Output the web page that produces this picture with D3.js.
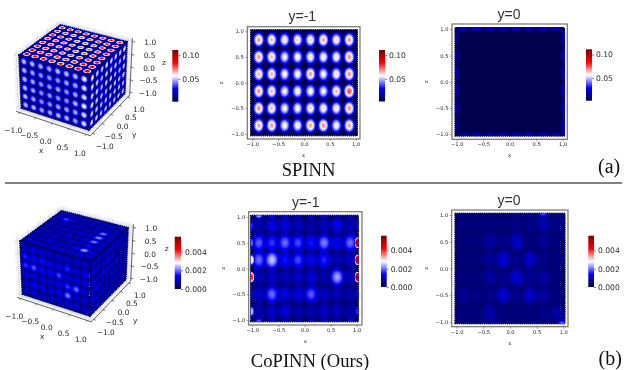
<!DOCTYPE html>
<html>
<head>
<meta charset="utf-8">
<script src="https://cdn.jsdelivr.net/npm/d3@7"></script>
<style>
  html, body { margin: 0; background: #fff; }
  svg { display: block; filter: blur(0.3px); }
  text { font-family: "DejaVu Sans", sans-serif; fill: #2a2a2a; }
  .title { font-family: "Liberation Sans", sans-serif; font-size: 14px; fill: #333; text-anchor: middle; }
  .caption { font-family: "Liberation Serif", serif; font-size: 18.6px; fill: #111; text-anchor: middle; }
  .tag { font-family: "Liberation Serif", serif; font-size: 20px; fill: #111; }
  .lumps { filter: blur(0.5px); }
</style>
</head>
<body>
<script>
// ---------------------------
// Data
// ---------------------------

const ticks = [-1, -0.5, 0, 0.5, 1];
const xCenters = [-0.875, -0.625, -0.375, -0.125, 0.125, 0.375, 0.625, 0.875];
const zCenters = [0.833, 0.5, 0.167, -0.167, -0.5, -0.833];
const yCenters = [0.875, 0.625, 0.375, 0.125, -0.125, -0.375, -0.625, -0.875];

const spinnDomain = [0.002, 0.111];
const spinnTicks = [0.05, 0.1];
const copinnDomain = [0, 0.0056];
const copinnTicks = [0, 0.002, 0.004];

// SPINN, slice y=-1: blob peak, rows by zCenters, columns by xCenters
const spinnYm1 = [
  [0.069, 0.066, 0.061, 0.063, 0.063, 0.068, 0.062, 0.069],
  [0.069, 0.066, 0.058, 0.060, 0.061, 0.061, 0.061, 0.070],
  [0.066, 0.066, 0.059, 0.060, 0.069, 0.059, 0.062, 0.070],
  [0.070, 0.066, 0.058, 0.061, 0.060, 0.058, 0.066, 0.078],
  [0.070, 0.066, 0.059, 0.060, 0.063, 0.062, 0.061, 0.070],
  [0.068, 0.069, 0.060, 0.061, 0.068, 0.070, 0.060, 0.068],
];

// SPINN, slice y=0: only the borders glow
const spinnY0Top = [0.020, 0.024, 0.022, 0.020, 0.022, 0.020, 0.022, 0.020];
const spinnY0Bottom = [0.020, 0.022, 0.020, 0.024, 0.022, 0.022, 0.022, 0.020];
const spinnY0Left = [0.016, 0.016, 0.020, 0.018, 0.018, 0.016];
const spinnY0Right = [0.016, 0.018, 0.016, 0.018, 0.016, 0.016];

// SPINN cube, outer faces
const spinnCubeTop = [
  [0.086, 0.086, 0.084, 0.084, 0.084, 0.084, 0.086, 0.088],
  [0.086, 0.084, 0.082, 0.080, 0.080, 0.082, 0.084, 0.088],
  [0.088, 0.082, 0.080, 0.078, 0.078, 0.080, 0.084, 0.088],
  [0.088, 0.082, 0.078, 0.078, 0.078, 0.080, 0.082, 0.088],
  [0.088, 0.084, 0.080, 0.078, 0.080, 0.080, 0.084, 0.090],
  [0.090, 0.086, 0.082, 0.080, 0.082, 0.084, 0.086, 0.092],
  [0.092, 0.088, 0.084, 0.084, 0.084, 0.086, 0.090, 0.096],
  [0.096, 0.092, 0.090, 0.090, 0.090, 0.094, 0.096, 0.100],
];
const spinnCubeFront = [
  [0.050, 0.050, 0.048, 0.048, 0.050, 0.050, 0.050, 0.056],
  [0.050, 0.048, 0.046, 0.046, 0.046, 0.048, 0.048, 0.054],
  [0.050, 0.048, 0.046, 0.046, 0.048, 0.046, 0.048, 0.054],
  [0.050, 0.048, 0.046, 0.046, 0.046, 0.046, 0.050, 0.056],
  [0.050, 0.048, 0.046, 0.046, 0.048, 0.048, 0.048, 0.054],
  [0.050, 0.050, 0.048, 0.048, 0.050, 0.050, 0.048, 0.054],
];
const spinnCubeRight = [
  [0.056, 0.052, 0.052, 0.054, 0.054, 0.054, 0.052, 0.054],
  [0.054, 0.052, 0.050, 0.052, 0.052, 0.052, 0.050, 0.052],
  [0.054, 0.052, 0.050, 0.052, 0.052, 0.050, 0.050, 0.052],
  [0.056, 0.052, 0.050, 0.050, 0.050, 0.052, 0.050, 0.052],
  [0.054, 0.052, 0.050, 0.050, 0.050, 0.050, 0.050, 0.050],
  [0.054, 0.052, 0.050, 0.050, 0.050, 0.050, 0.050, 0.050],
];

// CoPINN, slice y=-1
const copinnYm1 = [
  [0.0008, 0.0012, 0.0012, 0.0009, 0.0008, 0.0009, 0.0013, 0.0009],
  [0.0019, 0.0017, 0.0020, 0.0018, 0.0015, 0.0021, 0.0013, 0.0020],
  [0.0020, 0.0025, 0.0015, 0.0018, 0.0013, 0.0016, 0.0009, 0.0010],
  [0.0009, 0.0010, 0.0009, 0.0010, 0.0011, 0.0008, 0.0023, 0.0009],
  [0.0010, 0.0020, 0.0012, 0.0012, 0.0019, 0.0010, 0.0009, 0.0008],
  [0.0008, 0.0010, 0.0011, 0.0008, 0.0008, 0.0010, 0.0009, 0.0008],
];
const copinnYm1Top = [0.0024, 0.0015, 0.0012, 0.0011, 0.0011, 0.0012, 0.0010, 0.0011];
const copinnYm1Bottom = [0.0020, 0.0013, 0.0010, 0.0010, 0.0010, 0.0011, 0.0010, 0.0016];
const copinnYm1Left = [0.0016, 0.0019, 0.0030, 0.0041, 0.0013, 0.0024];
const copinnYm1Right = [0.0012, 0.0053, 0.0050, 0.0053, 0.0012, 0.0016];

// CoPINN, slice y=0
const copinnY0 = [
  [0.0004, 0.0004, 0.0004, 0.0004, 0.0005, 0.0005, 0.0008, 0.0005],
  [0.0004, 0.0004, 0.0007, 0.0005, 0.0010, 0.0004, 0.0006, 0.0004],
  [0.0004, 0.0004, 0.0006, 0.0011, 0.0005, 0.0010, 0.0005, 0.0004],
  [0.0004, 0.0004, 0.0007, 0.0005, 0.0011, 0.0006, 0.0007, 0.0004],
  [0.0006, 0.0005, 0.0005, 0.0011, 0.0005, 0.0010, 0.0007, 0.0004],
  [0.0004, 0.0004, 0.0008, 0.0004, 0.0004, 0.0004, 0.0005, 0.0007],
];
const copinnY0Top = [0.0004, 0.0004, 0.0004, 0.0005, 0.0005, 0.0007, 0.0019, 0.0006];
const copinnY0Bottom = [0.0005, 0.0006, 0.0008, 0.0006, 0.0005, 0.0007, 0.0006, 0.0020];

// CoPINN cube, outer faces
const copinnCubeFront = [
  [0.0010, 0.0012, 0.0011, 0.0010, 0.0010, 0.0010, 0.0011, 0.0010],
  [0.0016, 0.0013, 0.0015, 0.0013, 0.0012, 0.0016, 0.0011, 0.0014],
  [0.0017, 0.0019, 0.0013, 0.0014, 0.0018, 0.0012, 0.0012, 0.0012],
  [0.0011, 0.0012, 0.0011, 0.0012, 0.0013, 0.0017, 0.0020, 0.0011],
  [0.0011, 0.0015, 0.0012, 0.0012, 0.0014, 0.0021, 0.0011, 0.0011],
  [0.0010, 0.0011, 0.0011, 0.0010, 0.0010, 0.0011, 0.0011, 0.0010],
];
const copinnCubeTop = [
  [0.0009, 0.0010, 0.0009, 0.0008, 0.0009, 0.0010, 0.0009, 0.0009],
  [0.0010, 0.0018, 0.0010, 0.0009, 0.0009, 0.0010, 0.0010, 0.0009],
  [0.0009, 0.0010, 0.0009, 0.0010, 0.0009, 0.0009, 0.0021, 0.0010],
  [0.0009, 0.0009, 0.0010, 0.0009, 0.0011, 0.0010, 0.0022, 0.0010],
  [0.0008, 0.0010, 0.0009, 0.0011, 0.0009, 0.0012, 0.0021, 0.0011],
  [0.0009, 0.0009, 0.0010, 0.0009, 0.0011, 0.0010, 0.0015, 0.0010],
  [0.0010, 0.0009, 0.0011, 0.0010, 0.0010, 0.0013, 0.0023, 0.0012],
  [0.0010, 0.0011, 0.0010, 0.0011, 0.0011, 0.0011, 0.0012, 0.0010],
];
const copinnCubeRight = [
  [0.0011, 0.0010, 0.0009, 0.0010, 0.0011, 0.0010, 0.0010, 0.0009],
  [0.0013, 0.0011, 0.0010, 0.0013, 0.0011, 0.0009, 0.0010, 0.0009],
  [0.0012, 0.0010, 0.0013, 0.0010, 0.0009, 0.0011, 0.0009, 0.0010],
  [0.0011, 0.0013, 0.0010, 0.0009, 0.0011, 0.0009, 0.0010, 0.0009],
  [0.0013, 0.0010, 0.0011, 0.0010, 0.0009, 0.0010, 0.0009, 0.0009],
  [0.0010, 0.0011, 0.0009, 0.0010, 0.0010, 0.0009, 0.0009, 0.0009],
];

// ---------------------------
// Setup
// ---------------------------

const width = 625;
const height = 370;
const tickFormat = d3.format(".1f");

const svg = d3.select("body").append("svg").attr("width", width).attr("height", height);
const defs = svg.append("defs");

const seismic = d3
  .scaleLinear()
  .domain([0, 0.25, 0.5, 0.75, 1])
  .range(["#00004d", "#0000ff", "#ffffff", "#ff0000", "#800000"])
  .clamp(true);

let gradientCount = 0;
let clipCount = 0;

function valueColor(domain) {
  const t = d3.scaleLinear().domain(domain).range([0, 1]);
  return (v) => seismic(t(v));
}

// radial gradient of one lump: value falls from peak to base
function lumpFill(color, base, peak, power) {
  const id = `lump${gradientCount++}`;
  const grad = defs.append("radialGradient").attr("id", id);
  d3.range(0, 1.001, 0.05).forEach((t) => {
    const f = 1 - Math.pow(t, power);
    grad
      .append("stop")
      .attr("offset", t)
      .attr("stop-color", color(base + (peak - base) * f))
      .attr("stop-opacity", Math.min(1, (1 - t) / 0.15));
  });
  return `url(#${id})`;
}

// grid lumps may overlap: "lighten" keeps the stronger one instead of a hard seam
function gridLumps(matrix, us, vs, ru, rv, power) {
  return matrix.flatMap((row, i) =>
    row.map((value, j) => ({ u: us[j], v: vs[i], value, ru, rv, power, blend: "lighten" })),
  );
}

function edgeLumps(values, at, ru, rv, power = 2) {
  return values.map((value, i) => ({ ...at(i), value, ru, rv, power, blend: "normal" }));
}

// one flat surface, 2d panel or cube face: toScreen maps (u, v) to pixels
function drawSurface(g, toScreen, limit, domain, base, lumps) {
  const color = valueColor(domain);
  const outline = [
    toScreen(-limit, -limit),
    toScreen(limit, -limit),
    toScreen(limit, limit),
    toScreen(-limit, limit),
  ];
  const clipId = `clip${clipCount++}`;
  defs.append("clipPath").attr("id", clipId).append("polygon").attr("points", outline.join(" "));

  g.append("polygon")
    .attr("points", outline.join(" "))
    .attr("fill", color(base))
    .attr("stroke", color(base))
    .attr("stroke-width", 1.7)
    .attr("stroke-linecap", "round")
    .attr("stroke-dasharray", "0 2.1");

  g.append("g")
    .attr("clip-path", `url(#${clipId})`)
    .append("g")
    .attr("class", "lumps")
    .selectAll("circle")
    .data(lumps)
    .join("circle")
    .attr("r", 1)
    .attr("transform", (d) => {
      const c = toScreen(d.u, d.v);
      const a = toScreen(d.u + d.ru, d.v);
      const b = toScreen(d.u, d.v + d.rv);
      return `matrix(${a[0] - c[0]} ${a[1] - c[1]} ${b[0] - c[0]} ${b[1] - c[1]} ${c[0]} ${c[1]})`;
    })
    .attr("fill", (d) => lumpFill(color, base, d.value, d.power))
    .style("mix-blend-mode", (d) => d.blend);
}

function drawColorbar(p, domain, values, format) {
  const id = `bar${gradientCount++}`;
  const color = valueColor(domain);
  const grad = defs.append("linearGradient").attr("id", id).attr("x1", 0).attr("x2", 0).attr("y1", 1).attr("y2", 0);
  d3.range(0, 1.001, 0.05).forEach((t) => {
    grad
      .append("stop")
      .attr("offset", t)
      .attr("stop-color", color(domain[0] + (domain[1] - domain[0]) * t));
  });
  const y = d3.scaleLinear().domain(domain).range([p.bottom, p.top]);
  svg
    .append("rect")
    .attr("x", p.left)
    .attr("y", p.top)
    .attr("width", p.right - p.left)
    .attr("height", p.bottom - p.top)
    .attr("fill", `url(#${id})`);
  const axis = svg
    .append("g")
    .attr("transform", `translate(${p.right},0)`)
    .call(d3.axisRight(y).tickValues(values).tickSize(2).tickPadding(2).tickFormat(format));
  axis.select(".domain").remove();
  axis.selectAll("line").attr("stroke", "#222").attr("stroke-width", 0.6);
  axis.selectAll("text").attr("font-size", 7.6).attr("fill", "#2a2a2a");
}

function drawPanel(p, domain, base, lumps) {
  const x = d3.scaleLinear().domain([-1, 1]).range([p.x0, p.x1]);
  const z = d3.scaleLinear().domain([-1, 1]).range([p.z0, p.z1]);
  const g = svg.append("g");

  drawSurface(g, (u, v) => [x(u), z(v)], 1.03, domain, base, lumps);

  g.append("rect")
    .attr("x", p.left)
    .attr("y", p.top)
    .attr("width", p.right - p.left)
    .attr("height", p.bottom - p.top)
    .attr("fill", "none")
    .attr("stroke", "#77736a")
    .attr("stroke-width", 1.2);

  const xAxis = g
    .append("g")
    .attr("transform", `translate(0,${p.bottom})`)
    .call(d3.axisBottom(x).tickValues(ticks).tickSize(2).tickPadding(1.5).tickFormat(tickFormat));
  const zAxis = g
    .append("g")
    .attr("transform", `translate(${p.left},0)`)
    .call(d3.axisLeft(z).tickValues(ticks).tickSize(2).tickPadding(1.5).tickFormat(tickFormat));
  [xAxis, zAxis].forEach((a) => {
    a.select(".domain").remove();
    a.selectAll("line").attr("stroke", "#444").attr("stroke-width", 0.5);
    a.selectAll("text").attr("font-size", 5.2).attr("fill", "#2a2a2a");
  });

  g.append("text")
    .attr("x", (p.left + p.right) / 2)
    .attr("y", p.bottom + 18)
    .attr("text-anchor", "middle")
    .attr("font-size", 5.2)
    .text("x");
  g.append("text")
    .attr("transform", `translate(${p.left - 24},${(p.top + p.bottom) / 2}) rotate(-90)`)
    .attr("text-anchor", "middle")
    .attr("font-size", 5.2)
    .text("z");

  svg.append("text").attr("class", "title").attr("x", p.titleX).attr("y", p.titleY).text(p.title);
}

// matplotlib style camera, elev 30, azim -60, weak perspective
function cubeCamera(cx, cy) {
  const az = (-60 * Math.PI) / 180;
  const el = (30 * Math.PI) / 180;
  const dist = 18;
  const k = 38;
  const boxZ = 0.78;
  const right = [-Math.sin(az), Math.cos(az), 0];
  const up = [-Math.sin(el) * Math.cos(az), -Math.sin(el) * Math.sin(az), Math.cos(el)];
  const eye = [Math.cos(el) * Math.cos(az), Math.cos(el) * Math.sin(az), Math.sin(el)];
  const dot = (a, b) => a[0] * b[0] + a[1] * b[1] + a[2] * b[2];
  return (x, y, z) => {
    const q = [x, y, z * boxZ];
    const s = dist / (dist - dot(q, eye));
    return [cx + k * s * dot(q, right), cy - k * s * dot(q, up)];
  };
}

function drawCubeFrame(g, project) {
  const b = 1.12;
  const panes = [
    { pts: [[-b, -b, -b], [b, -b, -b], [b, b, -b], [-b, b, -b]], fill: "#f2f2f4" },
    { pts: [[-b, -b, -b], [-b, b, -b], [-b, b, b], [-b, -b, b]], fill: "#f6f6f8" },
    { pts: [[-b, b, -b], [b, b, -b], [b, b, b], [-b, b, b]], fill: "#f0f0f2" },
  ];
  g.selectAll(".pane")
    .data(panes)
    .join("polygon")
    .attr("points", (d) => d.pts.map((c) => project(...c)).join(" "))
    .attr("fill", (d) => d.fill);

  const gridLines = ticks.flatMap((t) => [
    [[t, -b, -b], [t, b, -b], [t, b, b]],
    [[-b, t, -b], [b, t, -b]],
    [[-b, -b, t], [-b, b, t], [b, b, t]],
    [[-b, t, -b], [-b, t, b]],
  ]);
  const line = d3.line();
  g.selectAll(".grid")
    .data(gridLines)
    .join("path")
    .attr("d", (d) => line(d.map((c) => project(...c))))
    .attr("fill", "none")
    .attr("stroke", "#c4c4c4")
    .attr("stroke-width", 0.5);

  const axes = [
    [[-b, -b, -b], [b, -b, -b]],
    [[b, -b, -b], [b, b, -b]],
    [[b, b, -b], [b, b, b]],
  ];
  g.selectAll(".axis")
    .data(axes)
    .join("path")
    .attr("d", (d) => line(d.map((c) => project(...c))))
    .attr("stroke", "#222")
    .attr("stroke-width", 0.7);

  const marks = ticks.flatMap((t) => [
    [[t, -b, -b], [t, -b - 0.07, -b]],
    [[b, t, -b], [b + 0.07, t, -b]],
    [[b, b, t], [b + 0.08, b, t]],
  ]);
  g.selectAll(".mark")
    .data(marks)
    .join("path")
    .attr("d", (d) => line(d.map((c) => project(...c))))
    .attr("stroke", "#222")
    .attr("stroke-width", 0.6);
}

function drawCubeLabels(g, project, labelZ) {
  const b = 1.12;
  const put = (pos, str) =>
    g
      .append("text")
      .attr("x", pos[0])
      .attr("y", pos[1])
      .attr("dy", "0.35em")
      .attr("text-anchor", "middle")
      .attr("font-size", 7.4)
      .text(str);
  const label = (t) => tickFormat(t).replace("-", "\u2212");
  ticks.forEach((t) => {
    const xp = project(t, -b - 0.42, -b - 0.32);
    put([xp[0] + 2, xp[1] + 2], label(t));
    put(project(b + 0.35, t, -b - 0.35), label(t));
    const p = project(b, b, t);
    put([p[0] + 18, p[1] + 1], label(t));
  });
  put(project(0, -b - 0.55, -b - 0.65), "x");
  put(project(b + 0.65, 0.1, -b - 0.62), "y");
  put(labelZ, "z");
}

function drawCube(c, domain, faces) {
  const project = cubeCamera(c.cx, c.cy);
  const g = svg.append("g");
  drawCubeFrame(g, project);
  const lim = 1.02;
  drawSurface(g, (u, v) => project(u, v, lim), 1.02, domain, faces.topBase, faces.top);
  drawSurface(g, (u, v) => project(u, -lim, v), 1.02, domain, faces.frontBase, faces.front);
  drawSurface(g, (u, v) => project(lim, u, v), 1.02, domain, faces.rightBase, faces.right);
  drawCubeLabels(g, project, c.labelZ);
}

// ---------------------------
// Top row: SPINN
// ---------------------------

drawCube(
  { cx: 74, cy: 75, labelZ: [164, 62] },
  spinnDomain,
  {
    topBase: 0.012,
    frontBase: 0.01,
    rightBase: 0.01,
    top: gridLumps(spinnCubeTop, xCenters, yCenters, 0.12, 0.12, 1.8),
    front: gridLumps(spinnCubeFront, xCenters, zCenters, 0.12, 0.16, 2.2),
    right: gridLumps(spinnCubeRight, [...yCenters].reverse(), zCenters, 0.12, 0.16, 2.2),
  },
);
drawColorbar({ left: 172.3, right: 178.3, top: 50, bottom: 101.7 }, spinnDomain, spinnTicks, d3.format(".2f"));

drawPanel(
  {
    left: 247.3, right: 360, top: 26.7, bottom: 139,
    x0: 252.3, x1: 355.7, z0: 134, z1: 31.3,
    title: "y=-1", titleX: 302.3, titleY: 20.7,
  },
  spinnDomain,
  0.002,
  gridLumps(spinnYm1, xCenters, zCenters, 0.135, 0.18, 1.7),
);
drawColorbar({ left: 379, right: 385, top: 50, bottom: 101.5 }, spinnDomain, spinnTicks, d3.format(".2f"));

drawPanel(
  {
    left: 452, right: 567.3, top: 24, bottom: 139.3,
    x0: 456.7, x1: 562.7, z0: 134.3, z1: 29.3,
    title: "y=0", titleX: 509, titleY: 19.3,
  },
  spinnDomain,
  0.002,
  [
    ...edgeLumps(spinnY0Top, (i) => ({ u: xCenters[i], v: 1.03 }), 0.16, 0.09),
    ...edgeLumps(spinnY0Bottom, (i) => ({ u: xCenters[i], v: -1.03 }), 0.16, 0.09),
    ...edgeLumps(spinnY0Left, (i) => ({ u: -1.03, v: zCenters[i] }), 0.09, 0.2),
    ...edgeLumps(spinnY0Right, (i) => ({ u: 1.03, v: zCenters[i] }), 0.09, 0.2),
  ],
);
drawColorbar({ left: 586, right: 592, top: 49.3, bottom: 100.7 }, spinnDomain, spinnTicks, d3.format(".2f"));

svg.append("text").attr("class", "caption").attr("x", 308.5).attr("y", 176).text("SPINN");
svg.append("text").attr("class", "tag").attr("x", 598).attr("y", 172.7).text("(a)");

svg.append("line")
  .attr("x1", 5).attr("x2", 622).attr("y1", 183).attr("y2", 183)
  .attr("stroke", "#808080").attr("stroke-width", 2);

// ---------------------------
// Bottom row: CoPINN
// ---------------------------

drawCube(
  { cx: 75, cy: 261, labelZ: [166.7, 248.3] },
  copinnDomain,
  {
    topBase: 0.0003,
    frontBase: 0.0002,
    rightBase: 0.0002,
    top: gridLumps(copinnCubeTop, xCenters, yCenters, 0.19, 0.15, 1.8),
    front: [
      ...gridLumps(copinnCubeFront, xCenters, zCenters, 0.17, 0.22, 1.8),
      ...edgeLumps(copinnYm1Right, (i) => ({ u: 1.02, v: zCenters[i] }), 0.05, 0.1, 3),
    ],
    right: gridLumps(copinnCubeRight, [...yCenters].reverse(), zCenters, 0.17, 0.22, 1.8),
  },
);
drawColorbar({ left: 174.7, right: 181, top: 236.7, bottom: 289 }, copinnDomain, copinnTicks, d3.format(".3f"));

drawPanel(
  {
    left: 248.7, right: 362, top: 211.7, bottom: 325,
    x0: 252.3, x1: 356.7, z0: 320, z1: 217,
    title: "y=-1", titleX: 305.7, titleY: 206.7,
  },
  copinnDomain,
  0.00015,
  [
    ...gridLumps(copinnYm1, xCenters, zCenters, 0.18, 0.23, 1.8),
    ...edgeLumps(copinnYm1Top, (i) => ({ u: xCenters[i], v: 1.03 }), 0.1, 0.08),
    ...edgeLumps(copinnYm1Bottom, (i) => ({ u: xCenters[i], v: -1.03 }), 0.1, 0.08),
    ...edgeLumps(copinnYm1Left, (i) => ({ u: -1.02, v: zCenters[i] }), 0.07, 0.12, 3),
    ...edgeLumps(copinnYm1Right, (i) => ({ u: 1.02, v: zCenters[i] }), 0.07, 0.12, 3),
  ],
);
drawColorbar({ left: 381, right: 386.7, top: 235.7, bottom: 287 }, copinnDomain, copinnTicks, d3.format(".3f"));

drawPanel(
  {
    left: 451.7, right: 568, top: 210, bottom: 326.7,
    x0: 456.7, x1: 563.3, z0: 322, z1: 215,
    title: "y=0", titleX: 509, titleY: 205,
  },
  copinnDomain,
  0.00022,
  [
    ...gridLumps(copinnY0, xCenters, zCenters, 0.18, 0.22, 1.8),
    ...edgeLumps(copinnY0Top, (i) => ({ u: xCenters[i], v: 1.03 }), 0.12, 0.08),
    ...edgeLumps(copinnY0Bottom, (i) => ({ u: xCenters[i] + 0.1, v: -1.03 }), 0.12, 0.08),
  ],
);
drawColorbar({ left: 588.3, right: 594, top: 235.7, bottom: 287 }, copinnDomain, copinnTicks, d3.format(".3f"));

svg.append("text").attr("class", "caption").attr("x", 310).attr("y", 366.7).text("CoPINN (Ours)");
svg.append("text").attr("class", "tag").attr("x", 598.5).attr("y", 365).text("(b)");
</script>
</body>
</html>
